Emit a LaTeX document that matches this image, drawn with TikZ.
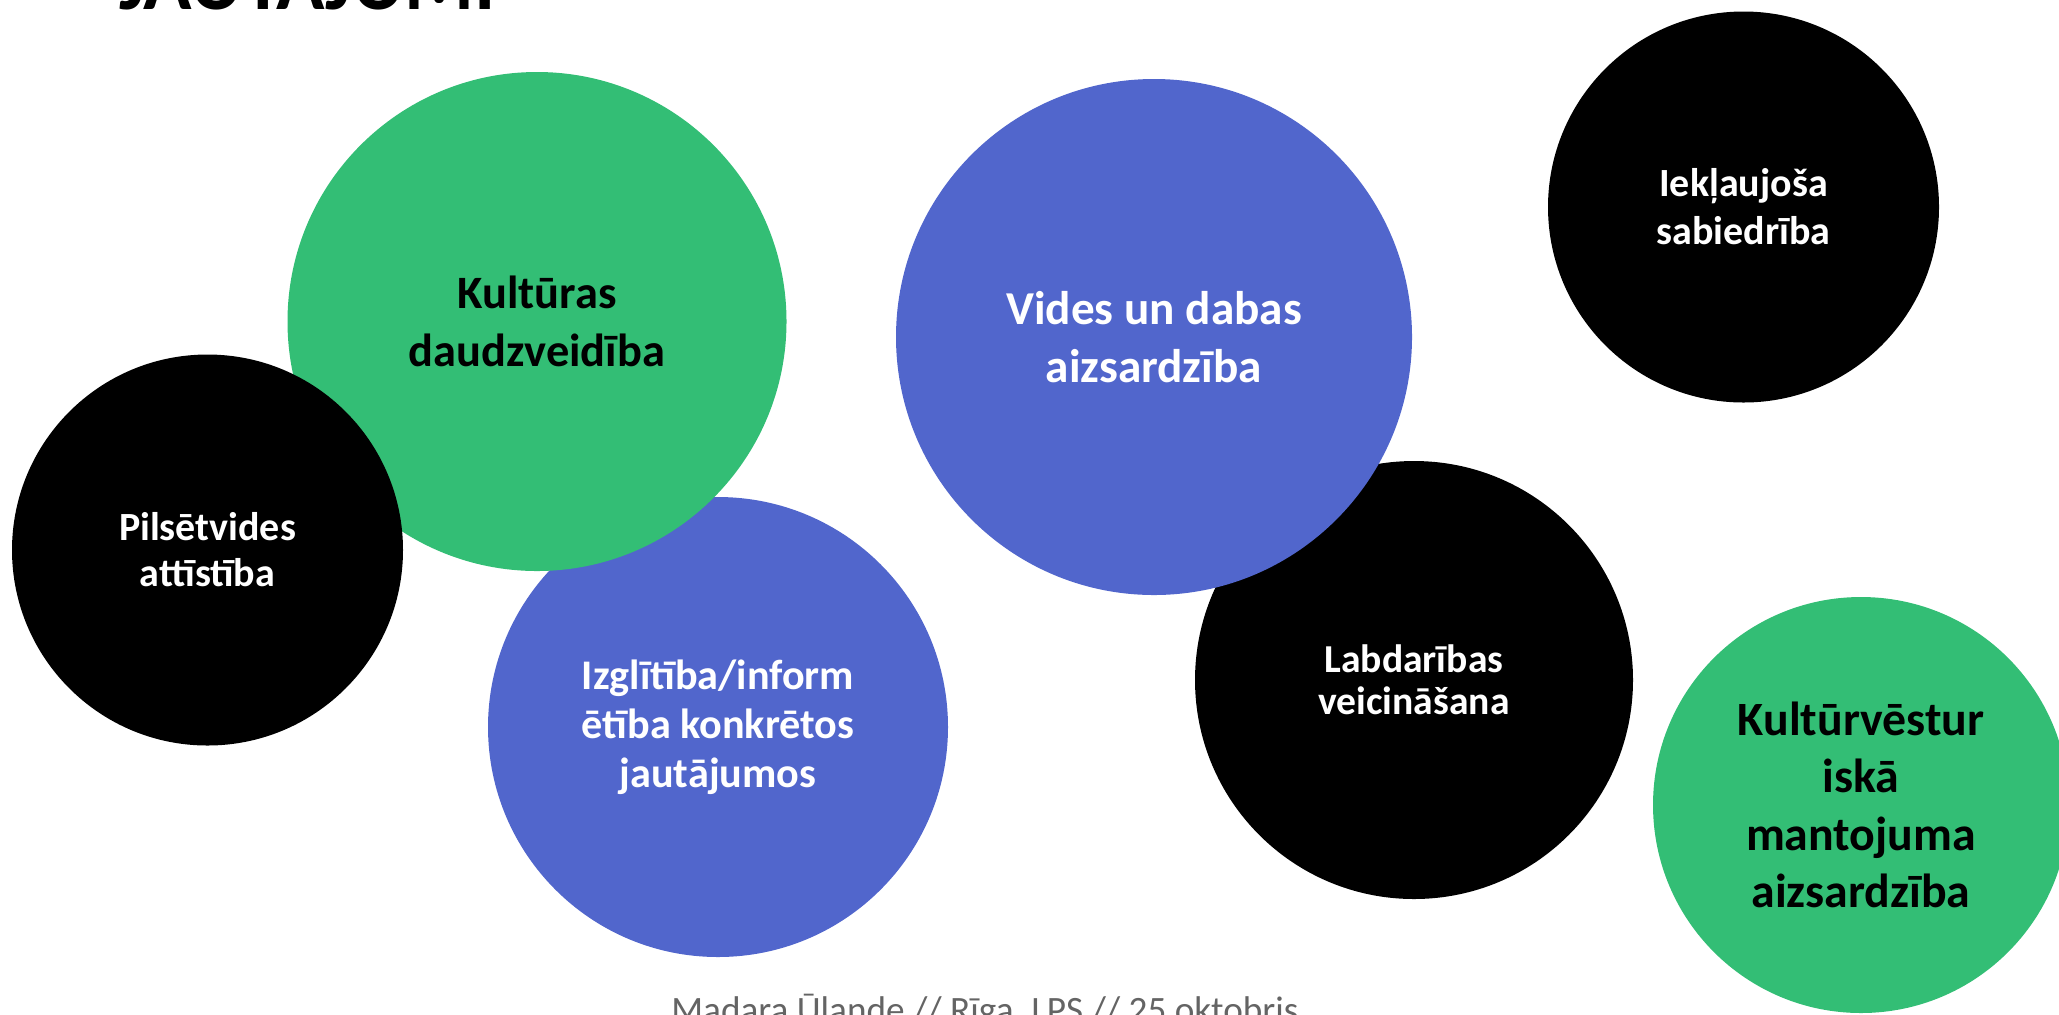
\documentclass[tikz,border=0pt]{standalone}
\usepackage{fontspec}
\setmainfont{Carlito}
\definecolor{ugreen}{RGB}{51,190,117}
\definecolor{ublue}{RGB}{81,102,204}
\definecolor{footgray}{RGB}{100,100,100}
\tikzset{
  bub/.style={circle, inner sep=0pt, align=center},
  gbub/.style={bub, fill=ugreen, text=black},
  bbub/.style={bub, fill=ublue, text=white},
  kbub/.style={bub, fill=black, text=white},
}
\begin{document}
\begin{tikzpicture}[x=0.5pt,y=-0.5pt]
\useasboundingbox (0,0) rectangle (2059,1014);
\clip (0,0) rectangle (2059,1014);
\node[anchor=base west, font=\bfseries\fontsize{40}{48}\selectfont] (title) at (112,9) {JAUTĀJUMI};
\node[bbub, minimum size=230pt, font=\bfseries\fontsize{21.1}{24.5}\selectfont] (izgl) at (718,727) {Izglītība/inform\\ētība konkrētos\\jautājumos};
\node[gbub, minimum size=249.5pt, font=\bfseries\fontsize{23.2}{28.9}\selectfont] (kult) at (537,321.5) {Kultūras\\daudzveidība};
\node[kbub, minimum size=195.5pt, font=\bfseries\fontsize{20}{23}\selectfont] (pils) at (207.5,550) {Pilsētvides\\attīstība};
\node[kbub, minimum size=219pt, font=\bfseries\fontsize{19.8}{21}\selectfont] (labd) at (1414,680) {Labdarības\\veicināšana};
\node[bbub, minimum size=258pt, font=\bfseries\fontsize{23.6}{29}\selectfont] (vides) at (1154,337) {Vides un dabas\\aizsardzība};
\node[kbub, minimum size=195.5pt, font=\bfseries\fontsize{20}{24}\selectfont] (iekl) at (1743.5,207) {Iekļaujoša\\sabiedrība};
\node[gbub, minimum size=208pt, font=\bfseries\fontsize{23.9}{28.7}\selectfont] (kvest) at (1861,805) {Kultūrvēstur\\iskā\\mantojuma\\aizsardzība};
\node[anchor=base, text=footgray, font=\fontsize{18.6}{22}\selectfont] (foot) at (985,1022) {Madara Ūlande // Rīga, LPS // 25 oktobris};
\end{tikzpicture}
\end{document}
